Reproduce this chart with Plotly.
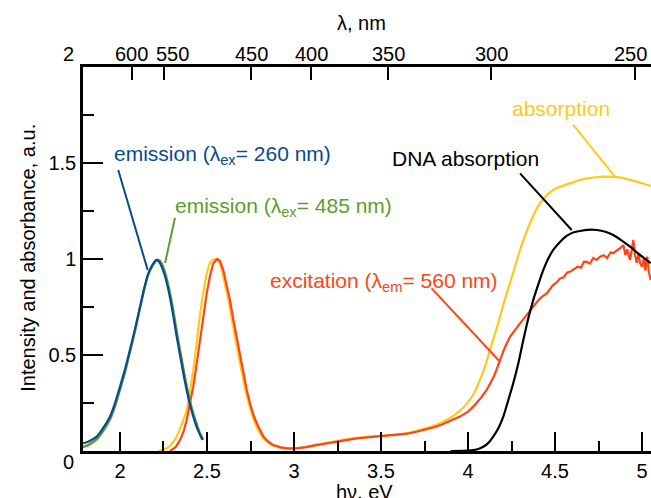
import plotly.graph_objects as go

# ---------------- data ----------------
em260_x = [1.787, 1.82, 1.866, 1.90, 1.943, 1.97, 2.0, 2.03, 2.057, 2.085, 2.115, 2.14, 2.163, 2.19, 2.211,
           2.225, 2.24, 2.259, 2.285, 2.307, 2.325, 2.345, 2.365, 2.383, 2.40, 2.421, 2.445, 2.46, 2.475]
em260_y = [0.040, 0.05, 0.075, 0.115, 0.18, 0.245, 0.335, 0.43, 0.526, 0.63, 0.75, 0.85, 0.925, 0.975, 0.995,
           0.985, 0.96, 0.91, 0.81, 0.70, 0.60, 0.50, 0.40, 0.318, 0.25, 0.18, 0.115, 0.085, 0.057]

em485_x = [1.787, 1.82, 1.866, 1.90, 1.943, 1.97, 2.0, 2.03, 2.057, 2.085, 2.115, 2.14, 2.163, 2.19, 2.215,
           2.23, 2.245, 2.265, 2.29, 2.312, 2.33, 2.35, 2.37, 2.388, 2.405, 2.426, 2.45, 2.465, 2.478]
em485_y = [0.02, 0.032, 0.06, 0.10, 0.165, 0.23, 0.32, 0.415, 0.515, 0.62, 0.745, 0.845, 0.92, 0.97, 0.995,
           0.99, 0.965, 0.91, 0.81, 0.70, 0.60, 0.50, 0.40, 0.318, 0.25, 0.18, 0.115, 0.082, 0.06]

abs_x = [2.22, 2.26, 2.29, 2.326, 2.355, 2.383, 2.40, 2.421, 2.44, 2.46, 2.48, 2.50, 2.52, 2.546, 2.565,
         2.585, 2.60, 2.62, 2.64, 2.66, 2.68, 2.70, 2.72, 2.74, 2.76, 2.78, 2.80, 2.82, 2.85, 2.88,
         2.92, 2.96, 3.00, 3.06, 3.12, 3.20, 3.28, 3.36, 3.44, 3.52, 3.60, 3.66, 3.724, 3.78, 3.839,
         3.89, 3.935, 3.975, 4.01, 4.04, 4.069, 4.10, 4.126, 4.155, 4.184, 4.212, 4.241, 4.27, 4.299, 4.327,
         4.356, 4.385, 4.414, 4.45, 4.49, 4.54, 4.586, 4.63, 4.682, 4.73, 4.778, 4.83, 4.874, 4.92, 4.97,
         5.01, 5.05]
abs_y = [0.0, 0.01, 0.03, 0.075, 0.14, 0.21, 0.30, 0.42, 0.56, 0.71, 0.83, 0.93, 0.985, 1.0, 0.99,
         0.94, 0.88, 0.80, 0.70, 0.60, 0.50, 0.41, 0.32, 0.25, 0.185, 0.135, 0.10, 0.07, 0.045, 0.028,
         0.016, 0.012, 0.012, 0.02, 0.032, 0.045, 0.058, 0.068, 0.075, 0.08, 0.085, 0.095, 0.11, 0.125, 0.145,
         0.168, 0.196, 0.228, 0.266, 0.31, 0.37, 0.445, 0.526, 0.61, 0.70, 0.79, 0.873, 0.96, 1.047, 1.12,
         1.186, 1.245, 1.29, 1.33, 1.36, 1.38, 1.394, 1.408, 1.42, 1.425, 1.429, 1.428, 1.425, 1.415, 1.403,
         1.392, 1.38]

exc_x = [2.287, 2.32, 2.345, 2.365, 2.383, 2.40, 2.421, 2.44, 2.46, 2.48, 2.498, 2.517, 2.536, 2.559, 2.575,
         2.594, 2.613, 2.632, 2.65, 2.67, 2.69, 2.709, 2.728, 2.747, 2.766, 2.786, 2.805, 2.824, 2.85, 2.881,
         2.92, 2.958, 3.015, 3.07, 3.13, 3.19, 3.245, 3.30, 3.36, 3.42, 3.475, 3.53, 3.59, 3.65, 3.705,
         3.76, 3.81, 3.85, 3.90, 3.954, 4.00, 4.03, 4.07, 4.107, 4.15, 4.184, 4.21, 4.241, 4.27, 4.299,
         4.33, 4.35, 4.375, 4.40, 4.42, 4.452, 4.47, 4.49, 4.51, 4.529, 4.55, 4.57, 4.59, 4.605, 4.63,
         4.65, 4.665, 4.682, 4.70, 4.72, 4.74, 4.759, 4.78, 4.80, 4.82, 4.835, 4.86, 4.88, 4.893, 4.905,
         4.915, 4.931, 4.94, 4.95, 4.96, 4.97, 4.98, 4.989, 5.00, 5.01, 5.02, 5.03, 5.04, 5.05]
exc_y = [0.0, 0.02, 0.057, 0.10, 0.16, 0.235, 0.335, 0.45, 0.578, 0.70, 0.82, 0.91, 0.978, 1.0, 0.99,
         0.94, 0.865, 0.786, 0.69, 0.595, 0.50, 0.405, 0.32, 0.248, 0.19, 0.144, 0.105, 0.075, 0.05, 0.031,
         0.02, 0.014, 0.014, 0.02, 0.031, 0.04, 0.049, 0.058, 0.066, 0.071, 0.075, 0.079, 0.083, 0.09, 0.10,
         0.112, 0.125, 0.138, 0.158, 0.179, 0.205, 0.231, 0.272, 0.318, 0.39, 0.474, 0.535, 0.595, 0.632, 0.665,
         0.70, 0.725, 0.752, 0.78, 0.80, 0.821, 0.84, 0.865, 0.878, 0.899, 0.905, 0.93, 0.935, 0.943, 0.96,
         0.955, 0.985, 0.986, 0.975, 1.005, 0.995, 1.012, 1.02, 1.005, 1.035, 1.03, 1.045, 1.06, 1.073, 1.02,
         1.05, 0.995, 1.04, 1.099, 1.02, 0.98, 1.03, 0.978, 0.96, 1.0, 0.94, 1.012, 0.93, 0.89]

dna_x = [3.90, 4.00, 4.05, 4.088, 4.12, 4.145, 4.175, 4.203, 4.23, 4.26, 4.29, 4.318, 4.345, 4.375, 4.405,
         4.433, 4.46, 4.49, 4.53, 4.567, 4.60, 4.644, 4.69, 4.74, 4.79, 4.835, 4.88, 4.931, 4.99, 5.05]
dna_y = [0.0, 0.002, 0.008, 0.022, 0.045, 0.075, 0.12, 0.179, 0.26, 0.353, 0.46, 0.578, 0.685, 0.786, 0.87,
         0.943, 1.0, 1.047, 1.09, 1.12, 1.137, 1.146, 1.152, 1.151, 1.142, 1.125, 1.098, 1.064, 1.02, 0.978]

x_ticks = [2, 2.5, 3, 3.5, 4, 4.5, 5]
x_ticktext = ["2", "2.5", "3", "3.5", "4", "4.5", "5"]
x_minor = [2.25, 2.75, 3.25, 3.75, 4.25, 4.75]
y_ticks = [0.5, 1, 1.5]
y_ticktext = ["0.5", "1", "1.5"]
y_minor = [0.25, 0.75, 1.25, 1.75]
nm_ticks = [600, 550, 450, 400, 350, 300, 250]
nm_label_shift = [0, 8, 0, 0, 0, 0, -4]   # px nudges of the top labels, as in the reference
HC = 1239.84  # eV*nm

# leader lines (data coords): (x0, y0, x1, y1)
leader_em260 = (1.990, 1.464, 2.159, 0.943)
leader_em485 = (2.316, 1.214, 2.259, 0.979)
leader_abs = (4.605, 1.698, 4.845, 1.429)
leader_dna = (4.299, 1.446, 4.596, 1.151)
leader_exc = (3.791, 0.847, 4.184, 0.465)

BLUE = "#0b4a8c"
GREEN = "#5b9e2c"
YELLOW = "#ffc91a"
RED = "#ff4516"
BLACK = "#000000"
FONT = "Liberation Sans, Arial, sans-serif"

fig = go.Figure()
fig.add_trace(go.Scatter(x=abs_x, y=abs_y, mode="lines", line=dict(color=YELLOW, width=2.2, shape="spline", smoothing=0.6)))
fig.add_trace(go.Scatter(x=exc_x, y=exc_y, mode="lines", line=dict(color=RED, width=2.2)))
fig.add_trace(go.Scatter(x=dna_x, y=dna_y, mode="lines", line=dict(color=BLACK, width=2.2, shape="spline", smoothing=0.6)))
fig.add_trace(go.Scatter(x=em485_x, y=em485_y, mode="lines", line=dict(color=GREEN, width=2.4, shape="spline", smoothing=0.6)))
fig.add_trace(go.Scatter(x=em260_x, y=em260_y, mode="lines", line=dict(color=BLUE, width=2.2, shape="spline", smoothing=0.6)))
# invisible trace to activate the top (wavelength) axis
fig.add_trace(go.Scatter(x=dna_x, y=dna_y, xaxis="x2", mode="lines", opacity=0, hoverinfo="skip",
                         line=dict(width=0)))

for (x0, y0, x1, y1), c in [(leader_em260, BLUE), (leader_em485, GREEN), (leader_abs, YELLOW),
                            (leader_dna, BLACK), (leader_exc, RED)]:
    fig.add_shape(type="line", x0=x0, y0=y0, x1=x1, y1=y1, xref="x", yref="y",
                  line=dict(color=c, width=2))

def ann(text, x, y, color, size=21, **kw):
    fig.add_annotation(text=text, x=x, y=y, showarrow=False, font=dict(family=FONT, size=size, color=color), **kw)

ann("emission (λ<sub>ex</sub>= 260 nm)", 1.952, 1.542, BLUE, xanchor="left", yanchor="middle", xref="x", yref="y")
ann("emission (λ<sub>ex</sub>= 485 nm)", 2.305, 1.271, GREEN, xanchor="left", yanchor="middle", xref="x", yref="y")
ann("DNA absorption", 3.552, 1.526, BLACK, xanchor="left", yanchor="middle", xref="x", yref="y")
ann("absorption", 4.241, 1.786, YELLOW, xanchor="left", yanchor="middle", xref="x", yref="y")
ann("excitation (λ<sub>em</sub>= 560 nm)", 2.851, 0.880, RED, xanchor="left", yanchor="middle", xref="x", yref="y")

# top wavelength tick labels
for n, s in zip(nm_ticks, nm_label_shift):
    ann(str(n), HC / n, 1.034, BLACK, size=20, xref="x", yref="paper", xanchor="center", yanchor="middle", xshift=s)

# axis end labels and titles
ann("0", -0.0264, -0.0286, BLACK, size=20, xref="paper", yref="paper", xanchor="center", yanchor="middle")
ann("2", -0.0264, 1.034, BLACK, size=20, xref="paper", yref="paper", xanchor="center", yanchor="middle")
ann("λ, nm", 0.491, 1.115, BLACK, size=20, xref="paper", yref="paper", xanchor="center", yanchor="middle")
ann("hν, eV", 0.495, -0.108, BLACK, size=20, xref="paper", yref="paper", xanchor="center", yanchor="middle")
ann("Intensity and absorbance, a.u.", -0.097, 0.503, BLACK, size=20, xref="paper", yref="paper",
    xanchor="center", yanchor="middle", textangle=-90)

XR = [1.7874, 5.0517]
axis_common = dict(showgrid=False, zeroline=False, showline=True, linecolor="black", linewidth=2.5,
                   ticks="inside", tickcolor="black", tickwidth=2, automargin=False, tickangle=0,
                   tickfont=dict(family=FONT, size=20, color="black"))

fig.update_layout(
    width=651, height=498,
    margin=dict(l=83, r=0, t=67, b=47, autoexpand=False),
    paper_bgcolor="white", plot_bgcolor="white",
    showlegend=False,
    font=dict(family=FONT, size=20, color="black"),
    xaxis=dict(range=XR, tickmode="array", tickvals=x_ticks, ticktext=x_ticktext, ticklen=19,
               minor=dict(tickmode="array", tickvals=x_minor, ticklen=10, tickwidth=2, ticks="inside",
                          tickcolor="black"),
               **axis_common),
    xaxis2=dict(range=XR, overlaying="x", side="top", anchor="y", tickmode="array",
                tickvals=[HC / n for n in nm_ticks], ticktext=["" for n in nm_ticks], ticklen=13,
                **axis_common),
    yaxis=dict(range=[0, 2], tickmode="array", tickvals=y_ticks, ticktext=y_ticktext, ticklen=20,
               minor=dict(tickmode="array", tickvals=y_minor, ticklen=11, tickwidth=2, ticks="inside",
                          tickcolor="black"),
               **axis_common),
)

fig.write_html("out.html", config={"displayModeBar": False},
               post_script="document.body.style.margin='0px';document.body.style.overflow='hidden';")
